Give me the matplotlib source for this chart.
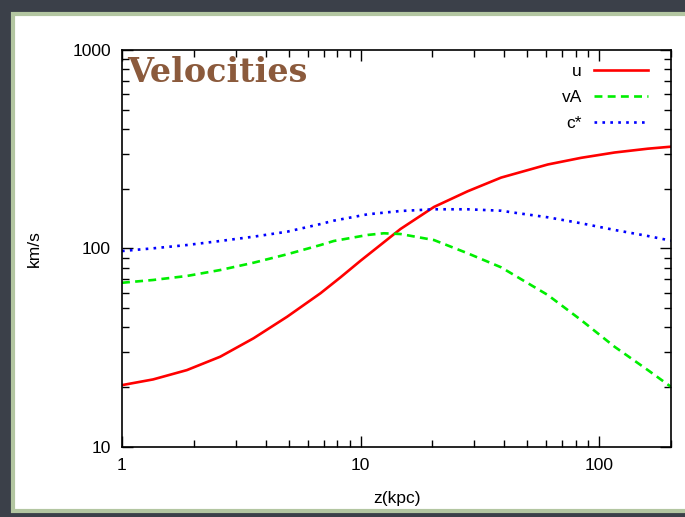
import matplotlib.pyplot as plt
from matplotlib.patches import Rectangle

# values (z in kpc, velocities in km/s)
z_u = [1, 1.35, 1.87, 2.58, 3.56, 4.92, 6.79, 8.24, 10, 12.1,
       14.7, 20.3, 28.1, 38.8, 60.9, 84, 116, 160, 200]
u = [20.5, 21.9, 24.4, 28.5, 35.3, 45.3, 59.5, 71.6, 86.8, 104.1,
     125.4, 161.9, 194.2, 227.6, 265, 286.3, 304.5, 318.3, 325.8]

z_va = [1, 1.35, 1.87, 2.58, 3.56, 4.92, 6.79, 7.72, 10.7, 12.5, 14.7,
        20.3, 28.1, 38.8, 60.9, 84, 116, 160, 200]
va = [67.2, 69.4, 72.7, 77.9, 84.8, 93.5, 104.1, 109.1, 117, 119.3, 118.3,
      110.3, 94.6, 80.4, 58.3, 43.6, 32, 24.4, 20.1]

z_c = [1, 1.35, 1.87, 2.58, 3.56, 4.92, 6.79, 7.72, 10.7, 14.7,
       20.3, 28.1, 38.8, 44.1, 60.9, 84, 116, 160, 200]
c_star = [97.1, 100.2, 104.1, 109.1, 114.7, 121.5, 132.8, 138.1, 148.7, 154.5,
          157.6, 157.6, 155, 151.5, 143.6, 134, 124, 115.6, 109.5]

plt.rcParams['font.family'] = ['Liberation Sans', 'DejaVu Sans']

fig = plt.figure(figsize=(6.85, 5.17), dpi=100)
fig.patch.set_facecolor('#3b4049')

# white card with chalky green rim
card = Rectangle((13 / 685, 6 / 517), 700 / 685, 497 / 517, transform=fig.transFigure,
                 facecolor='white', edgecolor='#b3c6a1', linewidth=3, zorder=-10)
fig.patches.append(card)

ax = fig.add_axes([122 / 685, 70 / 517, 549 / 685, 397 / 517])
ax.set_zorder(5)
ax.set_facecolor('white')

ax.plot(z_u, u, color='#ff0000', lw=1.9, label='u')
ax.plot(z_va, va, color='#00ee00', lw=1.9, linestyle=(0, (3, 2)), label='vA')
ax.plot(z_c, c_star, color='#0000ff', lw=1.9, linestyle=(0, (1, 2)), label='c*')

ax.set_xscale('log')
ax.set_yscale('log')
ax.set_xlim(1, 200)
ax.set_ylim(10, 1000)
ax.set_xticks([1, 10, 100])
ax.set_xticklabels(['1', '10', '100'])
ax.set_yticks([10, 100, 1000])
ax.set_yticklabels(['10', '100', '1000'])
ax.tick_params(which='both', direction='in', top=True, right=True, labelsize=12.5, pad=8)
ax.tick_params(which='major', length=8, width=1)
ax.tick_params(which='minor', length=5, width=1)
for s in ax.spines.values():
    s.set_linewidth(1.2)

ax.set_xlabel('z(kpc)', fontsize=12.5, labelpad=13)
ax.set_ylabel('km/s', fontsize=12.5, labelpad=22)

ax.text(0.01, 0.985, 'Velocities', transform=ax.transAxes, ha='left', va='top',
        fontsize=24, fontweight='bold', family='DejaVu Serif', color='#8b5a3c')

leg = ax.legend(loc='upper right', frameon=False, markerfirst=False, fontsize=12.5,
                handlelength=3.1, handletextpad=0.7, labelspacing=0.62,
                borderpad=0, borderaxespad=0, bbox_to_anchor=(0.958, 0.965))
for t in leg.get_texts():
    t.set_ha('right')

fig.savefig('out.png', dpi=100, facecolor=fig.get_facecolor())
